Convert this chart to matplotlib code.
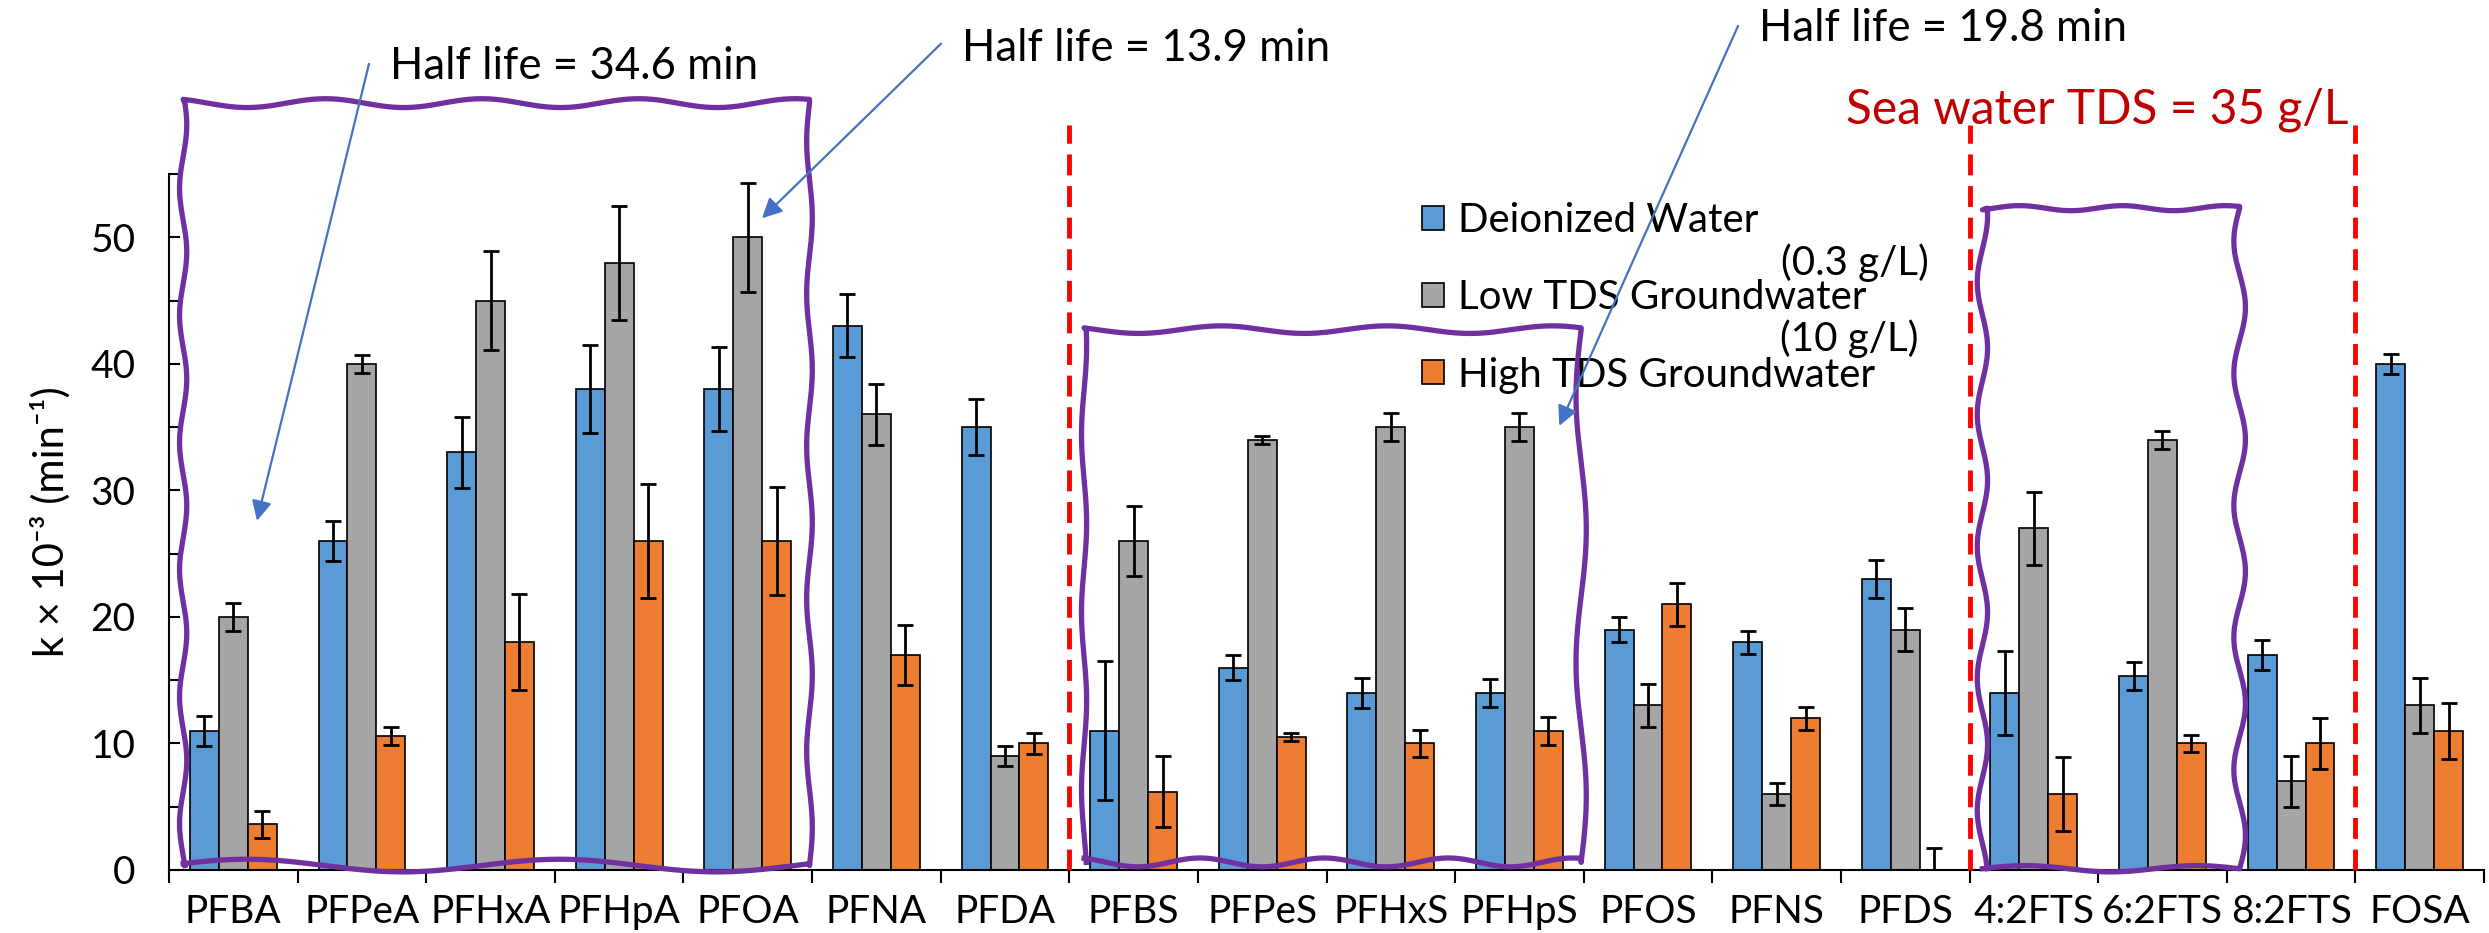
import numpy as np
import matplotlib
matplotlib.use("Agg")
import matplotlib.pyplot as plt
from matplotlib.ticker import MultipleLocator, FixedLocator

plt.rcParams["font.family"] = ["Lato", "DejaVu Sans"]

compounds = ["PFBA", "PFPeA", "PFHxA", "PFHpA", "PFOA", "PFNA", "PFDA",
             "PFBS", "PFPeS", "PFHxS", "PFHpS", "PFOS", "PFNS", "PFDS",
             "4:2FTS", "6:2FTS", "8:2FTS", "FOSA"]

# rate constants, k x 10^-3 (1/min)
k_di = [11, 26, 33, 38, 38, 43, 35, 11, 16, 14, 14, 19, 18, 23, 14, 15.3, 17, 40]
k_low = [20, 40, 45, 48, 50, 36, 9, 26, 34, 35, 35, 13, 6, 19, 27, 34, 7, 13]
k_high = [3.6, 10.6, 18, 26, 26, 17, 10, 6.2, 10.5, 10, 11, 21, 12, 0, 6, 10, 10, 11]

err_di = [1.2, 1.6, 2.8, 3.5, 3.3, 2.5, 2.2, 5.5, 1.0, 1.2, 1.1, 1.0, 0.9, 1.5, 3.3, 1.1, 1.2, 0.8]
err_low = [1.1, 0.7, 3.9, 4.5, 4.3, 2.4, 0.8, 2.8, 0.3, 1.1, 1.1, 1.7, 0.9, 1.7, 2.9, 0.7, 2.0, 2.2]
err_high = [1.1, 0.7, 3.8, 4.5, 4.3, 2.4, 0.8, 2.8, 0.3, 1.1, 1.1, 1.7, 0.9, 1.7, 2.9, 0.7, 2.0, 2.2]

series_labels = ["Deionized Water", "Low TDS Groundwater", "High TDS Groundwater"]
series_colors = ["#5B9BD5", "#A5A5A5", "#ED7D31"]

half_lives = ["Half life = 34.6 min", "Half life = 13.9 min", "Half life = 19.8 min"]

W, H = 2489, 933
fig = plt.figure(figsize=(W / 100, H / 100), dpi=100)
ax = fig.add_axes([169 / W, 63 / H, (2484 - 169) / W, (870 - 174) / H])

x = np.arange(len(compounds))
bw = 0.225
bars = []
for i, (vals, errs) in enumerate([(k_di, err_di), (k_low, err_low), (k_high, err_high)]):
    pos = x + (i - 1) * bw
    b = ax.bar(pos, vals, bw, color=series_colors[i], edgecolor="black",
               linewidth=1.2, label=series_labels[i], zorder=2)
    bars.append(b)
    ax.errorbar(pos, vals, yerr=errs, fmt="none", ecolor="black",
                elinewidth=2, capsize=5.5, capthick=2, zorder=3)

ax.set_xlim(-0.5, len(compounds) - 0.5)
ax.set_ylim(0, 55)
ax.spines["top"].set_visible(False)
ax.spines["right"].set_visible(False)
ax.spines["left"].set_linewidth(1.5)
ax.spines["bottom"].set_linewidth(1.5)

ax.set_xticks(x)
ax.set_xticklabels(compounds, fontsize=28)
ax.xaxis.set_minor_locator(FixedLocator(np.arange(-0.5, len(compounds), 1.0)))
ax.tick_params(axis="x", which="major", length=0, pad=17)
ax.tick_params(axis="x", which="minor", direction="out", length=9, width=1.5)

ax.yaxis.set_major_locator(MultipleLocator(10))
ax.yaxis.set_minor_locator(MultipleLocator(5))
ax.tick_params(axis="y", which="both", direction="in", length=8, width=1.5,
               labelsize=28, pad=24)
ax.set_ylabel("k × 10⁻³ (min⁻¹)", fontsize=30, labelpad=14)

# red dashed separators
for b in [6.5, 13.5, 16.5]:
    ax.plot([b, b], [0, 58.9], color="red", lw=3.5, ls=(0, (4.3, 2.2)),
            clip_on=False, zorder=4)
ax.text(12.54, 59.0, "Sea water TDS = 35 g/L", color="#C00000", fontsize=34.5,
        va="baseline", ha="left")


# hand-drawn purple outlines; each edge is (base, amplitude, cycles, phase)
def wavy_box(bottom, right, top, left):
    t = np.linspace(0, 1, 200)
    x0, x1 = left[0], right[0]
    y0, y1 = bottom[0], top[0]

    def wig(edge):
        base, amp, cyc, ph = edge
        return base + amp * np.sin(2 * np.pi * cyc * t + ph)

    xs = np.concatenate([x0 + (x1 - x0) * t, wig(right),
                         x1 - (x1 - x0) * t, wig(left)])
    ys = np.concatenate([wig(bottom), y0 + (y1 - y0) * t,
                         wig(top), y1 - (y1 - y0) * t])
    ax.plot(xs, ys, color="#7030A0", lw=3.8, clip_on=False, zorder=5,
            solid_joinstyle="round")


wavy_box(bottom=(0.35, 0.5, 2, 0.3), right=(4.48, 0.022, 5, 0.0),
         top=(60.6, 0.35, 4, 1.0), left=(-0.39, 0.028, 6, 0.5))
wavy_box(bottom=(0.6, 0.35, 4, 2.0), right=(10.48, 0.04, 2, 0.0),
         top=(42.7, 0.3, 3, 0.5), left=(6.615, 0.02, 3, 1.0))
wavy_box(bottom=(0.1, 0.25, 1.5, 0.0), right=(15.6, 0.045, 5, 0.0),
         top=(52.3, 0.2, 2.5, 0.7), left=(13.6, 0.04, 5, 1.2))

# half-life callouts
arrow_starts = [(1.055, 63.7), (5.503, 65.3), (11.70, 66.7)]
arrow_tips = [(0.184, 27.6), (4.111, 51.5), (10.31, 35.1)]
text_pos = [(1.218, 62.5), (5.666, 63.9), (11.86, 65.5)]
for label, start, tip, tp in zip(half_lives, arrow_starts, arrow_tips, text_pos):
    ax.annotate("", xy=tip, xytext=start, annotation_clip=False,
                arrowprops=dict(arrowstyle="-|>", color="#4472C4", lw=1.6,
                                mutation_scale=30, shrinkA=0, shrinkB=0),
                zorder=6)
    ax.text(tp[0], tp[1], label, fontsize=31.5, va="baseline", ha="left")

ax.legend(handles=bars, labels=series_labels, loc="upper left",
          bbox_to_anchor=(1422 / W, 1 - 202 / H), bbox_transform=fig.transFigure,
          frameon=False, fontsize=29, handlelength=0.55, handleheight=0.55,
          handletextpad=0.35, labelspacing=1.0, borderpad=0, borderaxespad=0)
ax.text(13.186, 47.0, "(0.3 g/L)", fontsize=29, ha="right", va="baseline")
ax.text(13.10, 41.0, "(10 g/L)", fontsize=29, ha="right", va="baseline")

fig.savefig("out.png", dpi=100)
